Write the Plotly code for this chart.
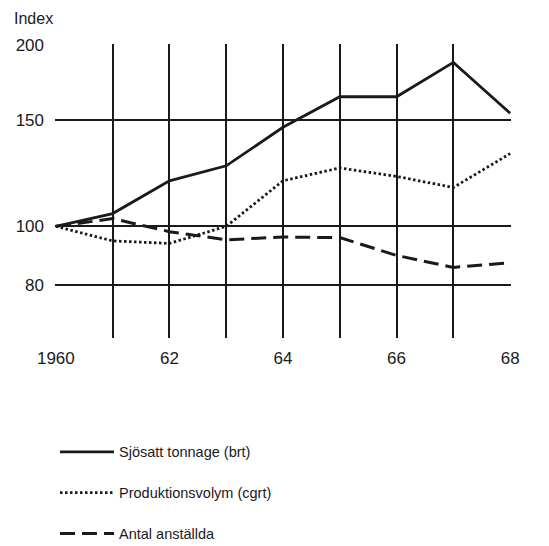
import math
import plotly.graph_objects as go

years = [1960, 1961, 1962, 1963, 1964, 1965, 1966, 1967, 1968]
tonnage = [100, 105, 119, 126, 146, 164, 164, 187, 154]
produktion = [100, 94.6, 93.7, 100, 119, 125, 121, 116, 132]
anstallda = [100, 103, 98, 95, 96, 95.8, 89.5, 85.5, 87]

x_ticktext = ["1960", "", "62", "", "64", "", "66", "", "68"]
y_tickvals = [80, 100, 150, 200]

INK = "#1a1a1a"

fig = go.Figure()
fig.add_trace(go.Scatter(
    x=years, y=tonnage, mode="lines", name="Sjösatt tonnage (brt)",
    legendgroup="a", line=dict(color=INK, width=2.8),
))
fig.add_trace(go.Scatter(
    x=years, y=produktion, mode="lines", name="Produktionsvolym (cgrt)",
    legendgroup="b", line=dict(color=INK, width=2.8, dash="2.5px,2.5px"),
))
fig.add_trace(go.Scatter(
    x=years, y=anstallda, mode="lines", name="Antal anställda",
    legendgroup="c", line=dict(color=INK, width=3, dash="15px,7px"),
))

# page body adds an 8px offset, so the figure is 8px smaller than the window
fig.update_layout(
    width=541, height=538,
    margin=dict(l=47, r=38, t=36, b=208, autoexpand=False),
    paper_bgcolor="white", plot_bgcolor="white",
    font=dict(family="Liberation Sans, Arial, sans-serif", size=17, color=INK),
    showlegend=True,
    legend=dict(
        x=0.0, y=-0.333, xanchor="left", yanchor="top",
        orientation="v", tracegroupgap=19, itemwidth=54,
        font=dict(size=14.5),
    ),
    annotations=[dict(
        text="Index", x=-0.094, y=1.0, xref="paper", yref="paper",
        xanchor="left", yanchor="middle", yshift=26, showarrow=False,
        font=dict(size=16),
    )],
)
fig.update_xaxes(
    range=[1959.985, 1968.015], tickvals=years, ticktext=x_ticktext,
    showgrid=True, gridcolor=INK, gridwidth=1.7,
    showline=False, zeroline=False, ticks="", ticklabelstandoff=8,
)
fig.update_yaxes(
    type="log", range=[math.log10(65.3), math.log10(200.6)],
    tickvals=y_tickvals, ticktext=[str(v) for v in y_tickvals],
    showgrid=True, gridcolor=INK, gridwidth=1.7,
    showline=False, zeroline=False, ticks="", ticklabelstandoff=10,
)

fig.write_html("out.html")
